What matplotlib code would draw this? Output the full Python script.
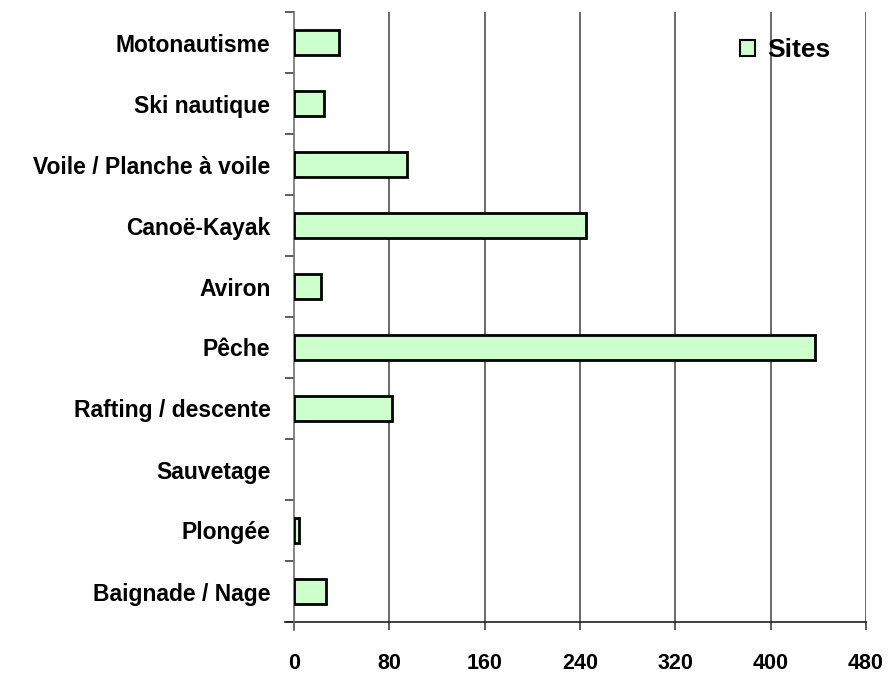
import matplotlib
matplotlib.use('Agg')
import numpy as np
import matplotlib.pyplot as plt
from matplotlib.lines import Line2D
from matplotlib.patches import Patch

# Activities, listed top to bottom
categories = ['Motonautisme', 'Ski nautique', 'Voile / Planche à voile',
              'Canoë-Kayak', 'Aviron', 'Pêche', 'Rafting / descente',
              'Sauvetage', 'Plongée', 'Baignade / Nage']
sites = [38, 25, 95, 245, 23, 437, 82, 0, 4, 27]
x_ticks = [0, 80, 160, 240, 320, 400, 480]

BAR_FILL = '#CCFFCC'
FONT = 'Liberation Sans'

plt.rcParams['font.family'] = [FONT, 'DejaVu Sans']

fig = plt.figure(figsize=(8.91, 6.75), dpi=100, facecolor='white')
ax = fig.add_axes([294 / 891, 53 / 675, 572 / 891, 610 / 675])

n = len(categories)
y = np.arange(n)[::-1]   # first category on top
# empty categories get no outline, so nothing shows on the axis
edge_w = [2.0 if v > 0 else 0 for v in sites]
ax.barh(y, sites, height=0.41, color=BAR_FILL, edgecolor='black',
        linewidth=edge_w, zorder=3, label='Sites')

ax.set_xlim(0, 480)
ax.set_ylim(-0.5, n - 0.5)

# vertical gridlines
for xv in x_ticks[1:]:
    ax.axvline(xv, color='#404040', linewidth=1.1, zorder=1)

# spines
for s in ('top', 'right', 'bottom'):
    ax.spines[s].set_visible(False)
ax.spines['left'].set_color('#707070')
ax.spines['left'].set_linewidth(1.2)

# bottom axis line, running a little past the y axis
ax.add_line(Line2D([-9 / 572, 1], [0, 0], transform=ax.transAxes,
                   color='#202020', linewidth=1.2, clip_on=False, zorder=4))
ax.add_line(Line2D([0, 0], [-8 / 610, 0], transform=ax.transAxes,
                   color='#707070', linewidth=1.2, clip_on=False, zorder=4))

# x ticks
ax.set_xticks(x_ticks)
ax.set_xticklabels([str(v) for v in x_ticks], fontsize=15.5, fontweight='bold')
ax.tick_params(axis='x', direction='out', length=6, width=1.1,
               color='#303030', pad=16.5)

# y: labels at category centres, tick marks at category boundaries
ax.set_yticks(y)
ax.set_yticklabels(categories, fontsize=16.5, fontweight='bold')
ax.tick_params(axis='y', which='major', length=0, pad=17)
ax.set_yticks(np.arange(-0.5, n, 1.0), minor=True)
ax.tick_params(axis='y', which='minor', direction='out', length=6.5,
               width=1.1, color='#303030')

handle = Patch(facecolor=BAR_FILL, edgecolor='black', linewidth=1.5)
leg = ax.legend([handle], ['Sites'], loc='center right',
                bbox_to_anchor=(830 / 891, 1 - 50 / 675),
                bbox_transform=fig.transFigure, frameon=False,
                borderpad=0, borderaxespad=0,
                prop={'family': FONT, 'weight': 'bold', 'size': 19},
                handlelength=0.56, handleheight=0.56, handletextpad=0.45)

fig.savefig('out.png', dpi=100, facecolor='white')
